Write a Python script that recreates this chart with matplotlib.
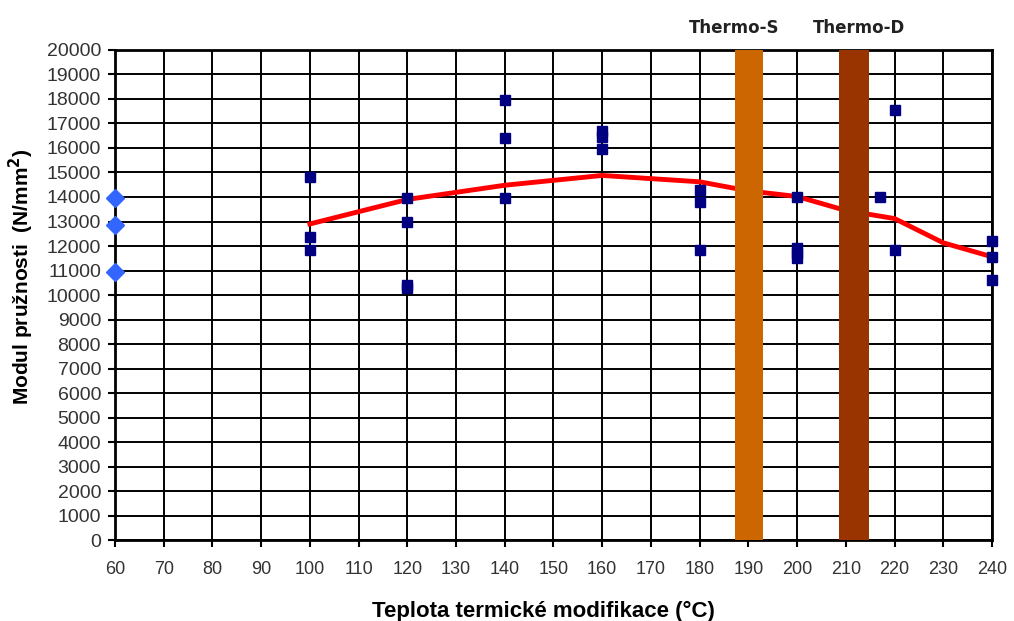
import matplotlib.pyplot as plt

# Naměřené hodnoty modulu pružnosti podle teploty modifikace
teplota = [100, 100, 100,
           120, 120, 120, 120,
           140, 140, 140,
           160, 160, 160,
           180, 180, 180,
           200, 200, 200, 200,
           217,
           220, 220,
           240, 240, 240]
modul = [14800, 12350, 11850,
         13950, 13000, 10400, 10300,
         17950, 16400, 13950,
         16700, 16450, 15950,
         14300, 13800, 11850,
         14000, 11900, 11700, 11500,
         14000,
         17550, 11850,
         12200, 11550, 10600]

# Nemodifikované dřevo (referenční vzorky)
ref_teplota = [60, 60, 60]
ref_modul = [13950, 12850, 10950]

# Průměrná křivka
prum_teplota = [100, 120, 140, 160, 180, 190, 200, 210, 220, 230, 240]
prum_modul = [12900, 13900, 14480, 14880, 14620, 14250, 14020, 13450, 13120, 12130, 11560]

# Pásma komerčních procesů
thermo_nazvy = ['Thermo-S', 'Thermo-D']
thermo_od = [187.3, 208.7]
thermo_do = [193.0, 214.8]
thermo_barvy = ['#CC6600', '#993300']

plt.rcParams['font.family'] = ['Liberation Sans', 'DejaVu Sans']

fig = plt.figure(figsize=(10.14, 6.21), dpi=100)
ax = fig.add_axes([0.1134, 0.1304, 0.8649, 0.7891])

ax.set_xlim(60, 240)
ax.set_ylim(0, 20000)
ax.set_xticks(range(60, 241, 10))
ax.set_yticks(range(0, 20001, 1000))
ax.grid(True, color='black', linewidth=1.4, zorder=1)
ax.set_axisbelow(True)

for s in ax.spines.values():
    s.set_linewidth(2)
    s.set_zorder(2)

ax.plot(prum_teplota, prum_modul, color='#FF0000', linewidth=3.5, zorder=3)

for nazev, od, do, barva in zip(thermo_nazvy, thermo_od, thermo_do, thermo_barvy):
    ax.axvspan(od, do, color=barva, zorder=4, linewidth=0)

ax.plot(teplota, modul, linestyle='none', marker='s', markersize=7,
        color='#000080', zorder=5, clip_on=False)
ax.plot(ref_teplota, ref_modul, linestyle='none', marker='D', markersize=9,
        color='#3366FF', zorder=5, clip_on=False)

ax.text(187.1, 20550, 'Thermo-S', ha='center', va='bottom', fontsize=12,
        fontweight='bold', family='DejaVu Sans', color='#222222')
ax.text(212.8, 20550, 'Thermo-D', ha='center', va='bottom', fontsize=12,
        fontweight='bold', family='DejaVu Sans', color='#222222')

ax.tick_params(axis='both', direction='out', length=5, width=1.5,
               labelcolor='#333333')
ax.tick_params(axis='y', labelsize=14, pad=5)
ax.tick_params(axis='x', labelsize=13, pad=10)

ax.set_xlabel('Teplota termické modifikace (°C)', fontsize=16, fontweight='bold')
ax.xaxis.set_label_coords(0.488, -0.125)
ax.set_ylabel('Modul pružnosti  (N/mm$^{\\mathbf{2}}$)', fontsize=15, fontweight='bold')
ax.yaxis.set_label_coords(-0.090, 0.537)

fig.savefig('out.png', dpi=100)
